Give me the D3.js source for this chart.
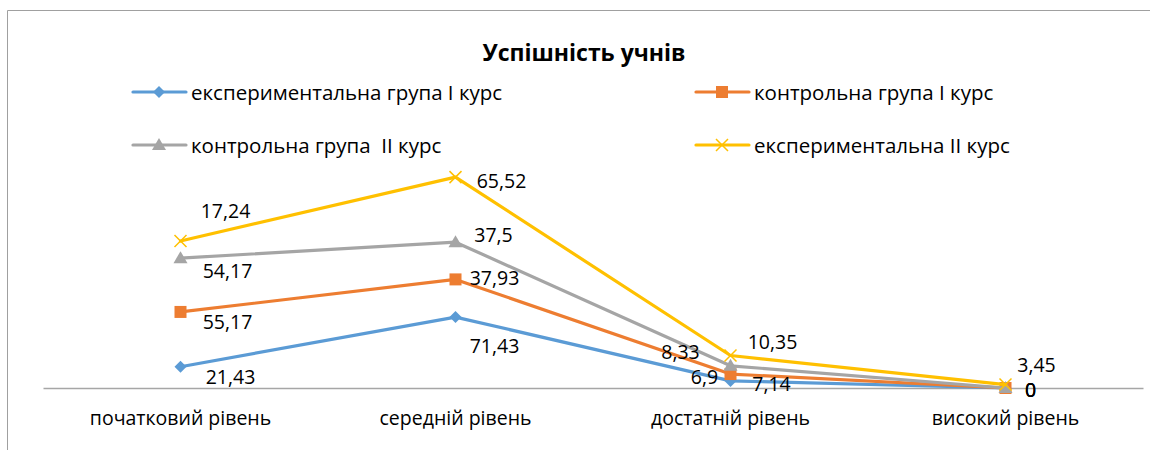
<!DOCTYPE html>
<html>
<head>
<meta charset="utf-8">
<script src="https://cdn.jsdelivr.net/npm/d3@7"></script>
<style>
  body { margin: 0; background: #fff; }
  text { font-family: "Open Sans", Lato, sans-serif; fill: #000; }
</style>
</head>
<body>
<div id="chart"></div>
<script>
var categories = ["початковий рівень", "середній рівень", "достатній рівень", "високий рівень"];
var seriesNames = ["експериментальна група І курс", "контрольна група І курс",
                   "контрольна група  ІІ курс", "експериментальна ІІ курс"];
var expI = [21.43, 71.43, 7.14, 0];
var contrI = [55.17, 37.93, 6.9, 0];
var contrII = [54.17, 37.5, 8.33, 0];
var expII = [17.24, 65.52, 10.35, 3.45];
var colors = ["#5B9BD5", "#ED7D31", "#A5A5A5", "#FFC000"];
var markers = ["diamond", "square", "triangle", "cross"];

// label offsets (dx, dy) from each point, roughly as placed in the original
var labelOffsets = [
    [[50, 10], [39, 28], [41, 3], [25, 1]],
    [[47, 10], [39, -2], [-26, 2], [25, 1]],
    [[47, 12], [38, -8], [-50, -14], [25, 1]],
    [[45, -31], [46, 3], [42, -14], [31, -20]]
];

var width = 1150, height = 450;
var margin = {left: 43, right: 7, top: 140, bottom: 62};
var fontFam = "'Open Sans', Lato, sans-serif";

var svg = d3.select("#chart").append("svg")
        .attr("width", width)
        .attr("height", height);

// chart frame (cut off at right and bottom as in the picture)
svg.append("path")
        .attr("d", "M7.5," + height + "V10.5H" + width)
        .attr("fill", "none")
        .attr("stroke", "#a0a0a0")
        .attr("stroke-width", 1);

var rows = categories.map(function(c, i) {
    return {cat: c, s0: expI[i], s1: contrI[i], s2: contrII[i], s3: expII[i]};
});
var keys = ["s0", "s1", "s2", "s3"];
var stacked = d3.stack().keys(keys)(rows);
var values = [expI, contrI, contrII, expII];

var x = d3.scaleBand()
        .domain(categories)
        .range([margin.left, width - margin.right]);
var y = d3.scaleLinear()
        .domain([0, 250])
        .range([height - margin.bottom, height - margin.bottom - 250 * 0.993]);

var axis = svg.append("g")
        .attr("transform", "translate(0," + (height - margin.bottom) + ")")
        .call(d3.axisBottom(x).tickSize(0).tickPadding(23));
axis.select(".domain").attr("stroke", "#a6a6a6").attr("stroke-width", 1.3);
axis.selectAll("text")
        .attr("font-size", "19.5px")
        .attr("font-family", fontFam)
        .attr("fill", "#000");

var cx = function(d) { return x(d.data.cat) + x.bandwidth() / 2; };

function drawMarker(g, type, color, px, py) {
    if (type == "diamond") {
        g.append("path")
                .attr("d", "M" + px + "," + (py - 6) + "L" + (px + 6) + "," + py + "L" + px + "," + (py + 6) + "L" + (px - 6) + "," + py + "Z")
                .attr("fill", color);
    } else if (type == "square") {
        g.append("rect")
                .attr("x", px - 6).attr("y", py - 6)
                .attr("width", 12).attr("height", 12)
                .attr("fill", color);
    } else if (type == "triangle") {
        g.append("path")
                .attr("d", "M" + px + "," + (py - 7) + "L" + (px + 7) + "," + (py + 5) + "L" + (px - 7) + "," + (py + 5) + "Z")
                .attr("fill", color);
    } else {
        g.append("path")
                .attr("d", "M" + (px - 6) + "," + (py - 6) + "L" + (px + 6) + "," + (py + 6) + "M" + (px + 6) + "," + (py - 6) + "L" + (px - 6) + "," + (py + 6))
                .attr("stroke", color)
                .attr("stroke-width", 1.5)
                .attr("fill", "none");
    }
}

var line = d3.line()
        .x(cx)
        .y(function(d) { return y(d[1]); });

stacked.forEach(function(layer, si) {
    var g = svg.append("g");
    g.append("path")
            .datum(layer)
            .attr("d", line)
            .attr("fill", "none")
            .attr("stroke", colors[si])
            .attr("stroke-width", 3.2)
            .attr("stroke-linejoin", "round")
            .attr("stroke-linecap", "round");
    layer.forEach(function(d) {
        drawMarker(g, markers[si], colors[si], cx(d), y(d[1]));
    });
});

// data labels
stacked.forEach(function(layer, si) {
    layer.forEach(function(d, ci) {
        var off = labelOffsets[si][ci];
        svg.append("text")
                .attr("x", cx(d) + off[0])
                .attr("y", y(d[1]) + off[1])
                .attr("text-anchor", "middle")
                .attr("dominant-baseline", "central")
                .attr("font-size", "19.5px")
                .text(String(values[si][ci]).replace(".", ","));
    });
});

// title
svg.append("text")
        .attr("x", 584)
        .attr("y", 61)
        .attr("text-anchor", "middle")
        .attr("font-size", "23px")
        .attr("font-weight", "bold")
        .text("Успішність учнів");

// legend
var legendPos = [[133, 92], [696, 92], [133, 145], [696, 145]];
seriesNames.forEach(function(name, si) {
    var lx = legendPos[si][0], ly = legendPos[si][1];
    var g = svg.append("g");
    g.append("line")
            .attr("x1", lx).attr("x2", lx + 53)
            .attr("y1", ly).attr("y2", ly)
            .attr("stroke", colors[si])
            .attr("stroke-width", 3.2)
            .attr("stroke-linecap", "round");
    drawMarker(g, markers[si], colors[si], lx + 26, ly);
    g.append("text")
            .attr("x", lx + 58)
            .attr("y", ly)
            .attr("dominant-baseline", "central")
            .attr("font-size", "20.5px")
            .style("white-space", "pre")
            .text(name);
});
</script>
</body>
</html>
